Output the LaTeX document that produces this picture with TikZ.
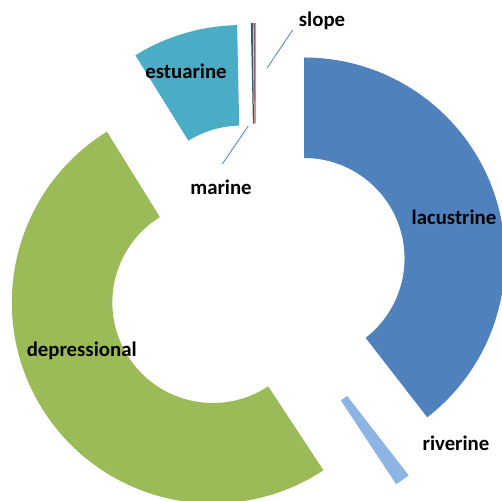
\documentclass[tikz,border=0pt]{standalone}
\usepackage{fontspec}
\setmainfont{Carlito}
\usetikzlibrary{calc}
\definecolor{cLac}{HTML}{4F81BD}
\definecolor{cRiv}{HTML}{8DB4E2}
\definecolor{cDep}{HTML}{9BBB59}
\definecolor{cEst}{HTML}{4BACC6}
\definecolor{cMar}{HTML}{23687A}
\definecolor{cSlo}{HTML}{C0504D}
\definecolor{cLead}{HTML}{4F81BD}
\newcommand\dexp{51}
\newcommand\Rout{201}
\newcommand\Rin{100.5}
\newcommand\donutslice[3]{%
  \pgfmathsetmacro\slmid{(#1+#2)/2}%
  \fill[#3] ($(C0)+(\slmid:\dexp)+(#1:\Rout)$) arc[start angle=#1,end angle=#2,radius=\Rout]
    -- ($(C0)+(\slmid:\dexp)+(#2:\Rin)$) arc[start angle=#2,end angle=#1,radius=\Rin] -- cycle;}
\begin{document}
\begin{tikzpicture}[x=1pt,y=1pt,
  lbl/.style={anchor=base,inner sep=0pt,font=\fontsize{20.8}{25}\selectfont\bfseries,text=black},
  leader/.style={draw=cLead,line width=0.8pt}]
\useasboundingbox (0,0) rectangle (502,500);
\clip (0,0) rectangle (502,500);
\coordinate (C0) at (255.8,225);
\donutslice{-52.2}{90}{cLac}
\donutslice{-56.6}{-52.2}{cRiv}
\donutslice{121.8}{303.4}{cDep}
\donutslice{91.2}{121.8}{cEst}
\donutslice{90.6}{91.2}{cMar}
\donutslice{90}{90.6}{cSlo}
\node[lbl] (lslope) at (322,473.5) {slope};
\node[lbl] (lmarine) at (221,305) {marine};
\node[lbl] (lest) at (186,421) {estuarine};
\node[lbl] (llac) at (454,275.7) {lacustrine};
\node[lbl] (ldep) at (81.7,143.5) {depressional};
\node[lbl] (lriv) at (456,49.3) {riverine};
\coordinate (sA) at (267.3,432.3);
\coordinate (sB) at (292.7,470);
\coordinate (mA) at (248.3,374);
\coordinate (mB) at (222.3,336);
\draw[leader] (sA) -- (sB);
\draw[leader] (mA) -- (mB);
\end{tikzpicture}
\end{document}
